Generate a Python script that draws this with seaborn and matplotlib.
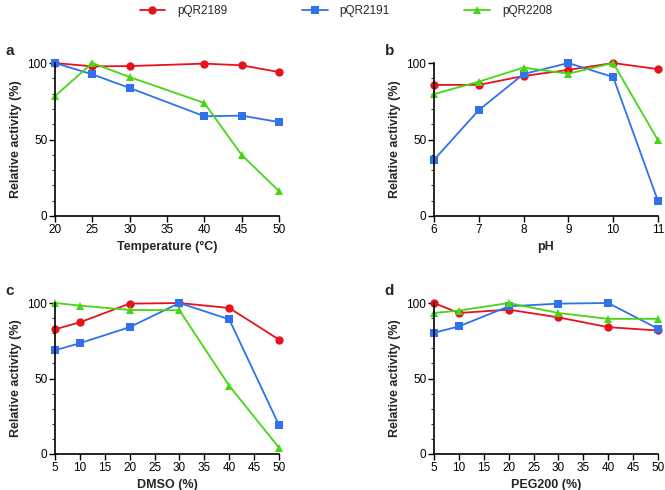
import numpy as np
import pandas as pd
import seaborn as sns
import matplotlib.pyplot as plt
from matplotlib.ticker import MultipleLocator

sns.set_style("ticks")
plt.rcParams['font.family'] = ['Liberation Sans', 'DejaVu Sans']

strains = ['pQR2189', 'pQR2191', 'pQR2208']
colors = ['#e8121c', '#2f72ec', '#46d616']
markers = ['o', 's', '^']

# a: temperature
temp = [20, 25, 30, 40, 45, 50]
temp_red = [100, 97.8, 98, 99.6, 98.5, 94.1]
temp_blue = [100, 92.6, 83.7, 65.2, 65.6, 61.4]
temp_green = [78.4, 100, 90.8, 73.9, 39.9, 16.3]

# b: pH
ph = [6, 7, 8, 9, 10, 11]
ph_red = [85.7, 85.7, 91.5, 95.5, 100, 96]
ph_blue = [36.7, 69.2, 92.8, 100, 90.8, 9.8]
ph_green = [79.7, 87.8, 97, 93, 100, 49.5]

# c: DMSO
dmso = [5, 10, 20, 30, 40, 50]
dmso_red = [82.6, 87.2, 99.6, 100, 96.7, 75.8]
dmso_blue = [68.7, 73.4, 84, 100, 89.2, 19.2]
dmso_green = [100, 98.3, 95.4, 95.2, 45.2, 4.2]

# d: PEG200
peg = [5, 10, 20, 30, 40, 50]
peg_red = [100, 93.4, 95.6, 90.5, 84, 81.8]
peg_blue = [80.3, 84.5, 97.8, 99.6, 100, 83]
peg_green = [93.4, 95, 100, 93.4, 89.5, 89.5]

panels = [
    ('a', 'Temperature (°C)', temp, [temp_red, temp_blue, temp_green], (20, 50), list(range(20, 51, 5))),
    ('b', 'pH', ph, [ph_red, ph_blue, ph_green], (6, 11), ph),
    ('c', 'DMSO (%)', dmso, [dmso_red, dmso_blue, dmso_green], (5, 50), list(range(5, 51, 5))),
    ('d', 'PEG200 (%)', peg, [peg_red, peg_blue, peg_green], (5, 50), list(range(5, 51, 5))),
]

fig = plt.figure(figsize=(6.65, 4.9), dpi=100)
boxes = [
    [0.0827, 0.5592, 0.3368, 0.3122],
    [0.6526, 0.5592, 0.3368, 0.3122],
    [0.0827, 0.0735, 0.3368, 0.3081],
    [0.6526, 0.0735, 0.3368, 0.3081],
]

for box, (letter, xlabel, x, series, xlim, xticks) in zip(boxes, panels):
    ax = fig.add_axes(box)
    rows = []
    for name, vals in zip(strains, series):
        for xi, v in zip(x, vals):
            rows.append({'x': xi, 'y': v, 'strain': name})
    df = pd.DataFrame(rows)
    sns.lineplot(data=df, x='x', y='y', hue='strain', style='strain',
                 palette=colors, markers=markers, dashes=False,
                 markersize=6, markeredgewidth=0, linewidth=1.3,
                 legend=False, ax=ax, clip_on=False)
    ax.set_xlim(*xlim)
    ax.set_ylim(0, 100)
    ax.set_xticks(xticks)
    ax.set_yticks([0, 50, 100])
    ax.yaxis.set_minor_locator(MultipleLocator(10))
    ax.tick_params(axis='both', which='major', labelsize=8.5, length=4, width=1, pad=1.5, colors='black')
    ax.tick_params(axis='y', which='minor', length=2.5, width=0.8)
    for s in ['left', 'bottom']:
        ax.spines[s].set_linewidth(1.2)
        ax.spines[s].set_color('black')
    sns.despine(ax=ax)
    ax.set_xlabel(xlabel, fontsize=9, fontweight='bold', labelpad=4)
    ax.set_ylabel('Relative activity (%)', fontsize=9, fontweight='bold', labelpad=4)
    ax.text(-0.22, 1.03, letter, transform=ax.transAxes, fontsize=11,
            fontweight='bold', va='bottom', ha='left')

handles = [plt.Line2D([], [], color=c, marker=m, markersize=6, markeredgewidth=0, linewidth=1.3)
           for c, m in zip(colors, markers)]
fig.legend(handles, strains, loc='upper center', bbox_to_anchor=(0.52, 1.012), ncol=3,
           frameon=False, fontsize=8.5, handlelength=2.2, handletextpad=1.0, columnspacing=6.3)

fig.savefig('out.png', dpi=100)
